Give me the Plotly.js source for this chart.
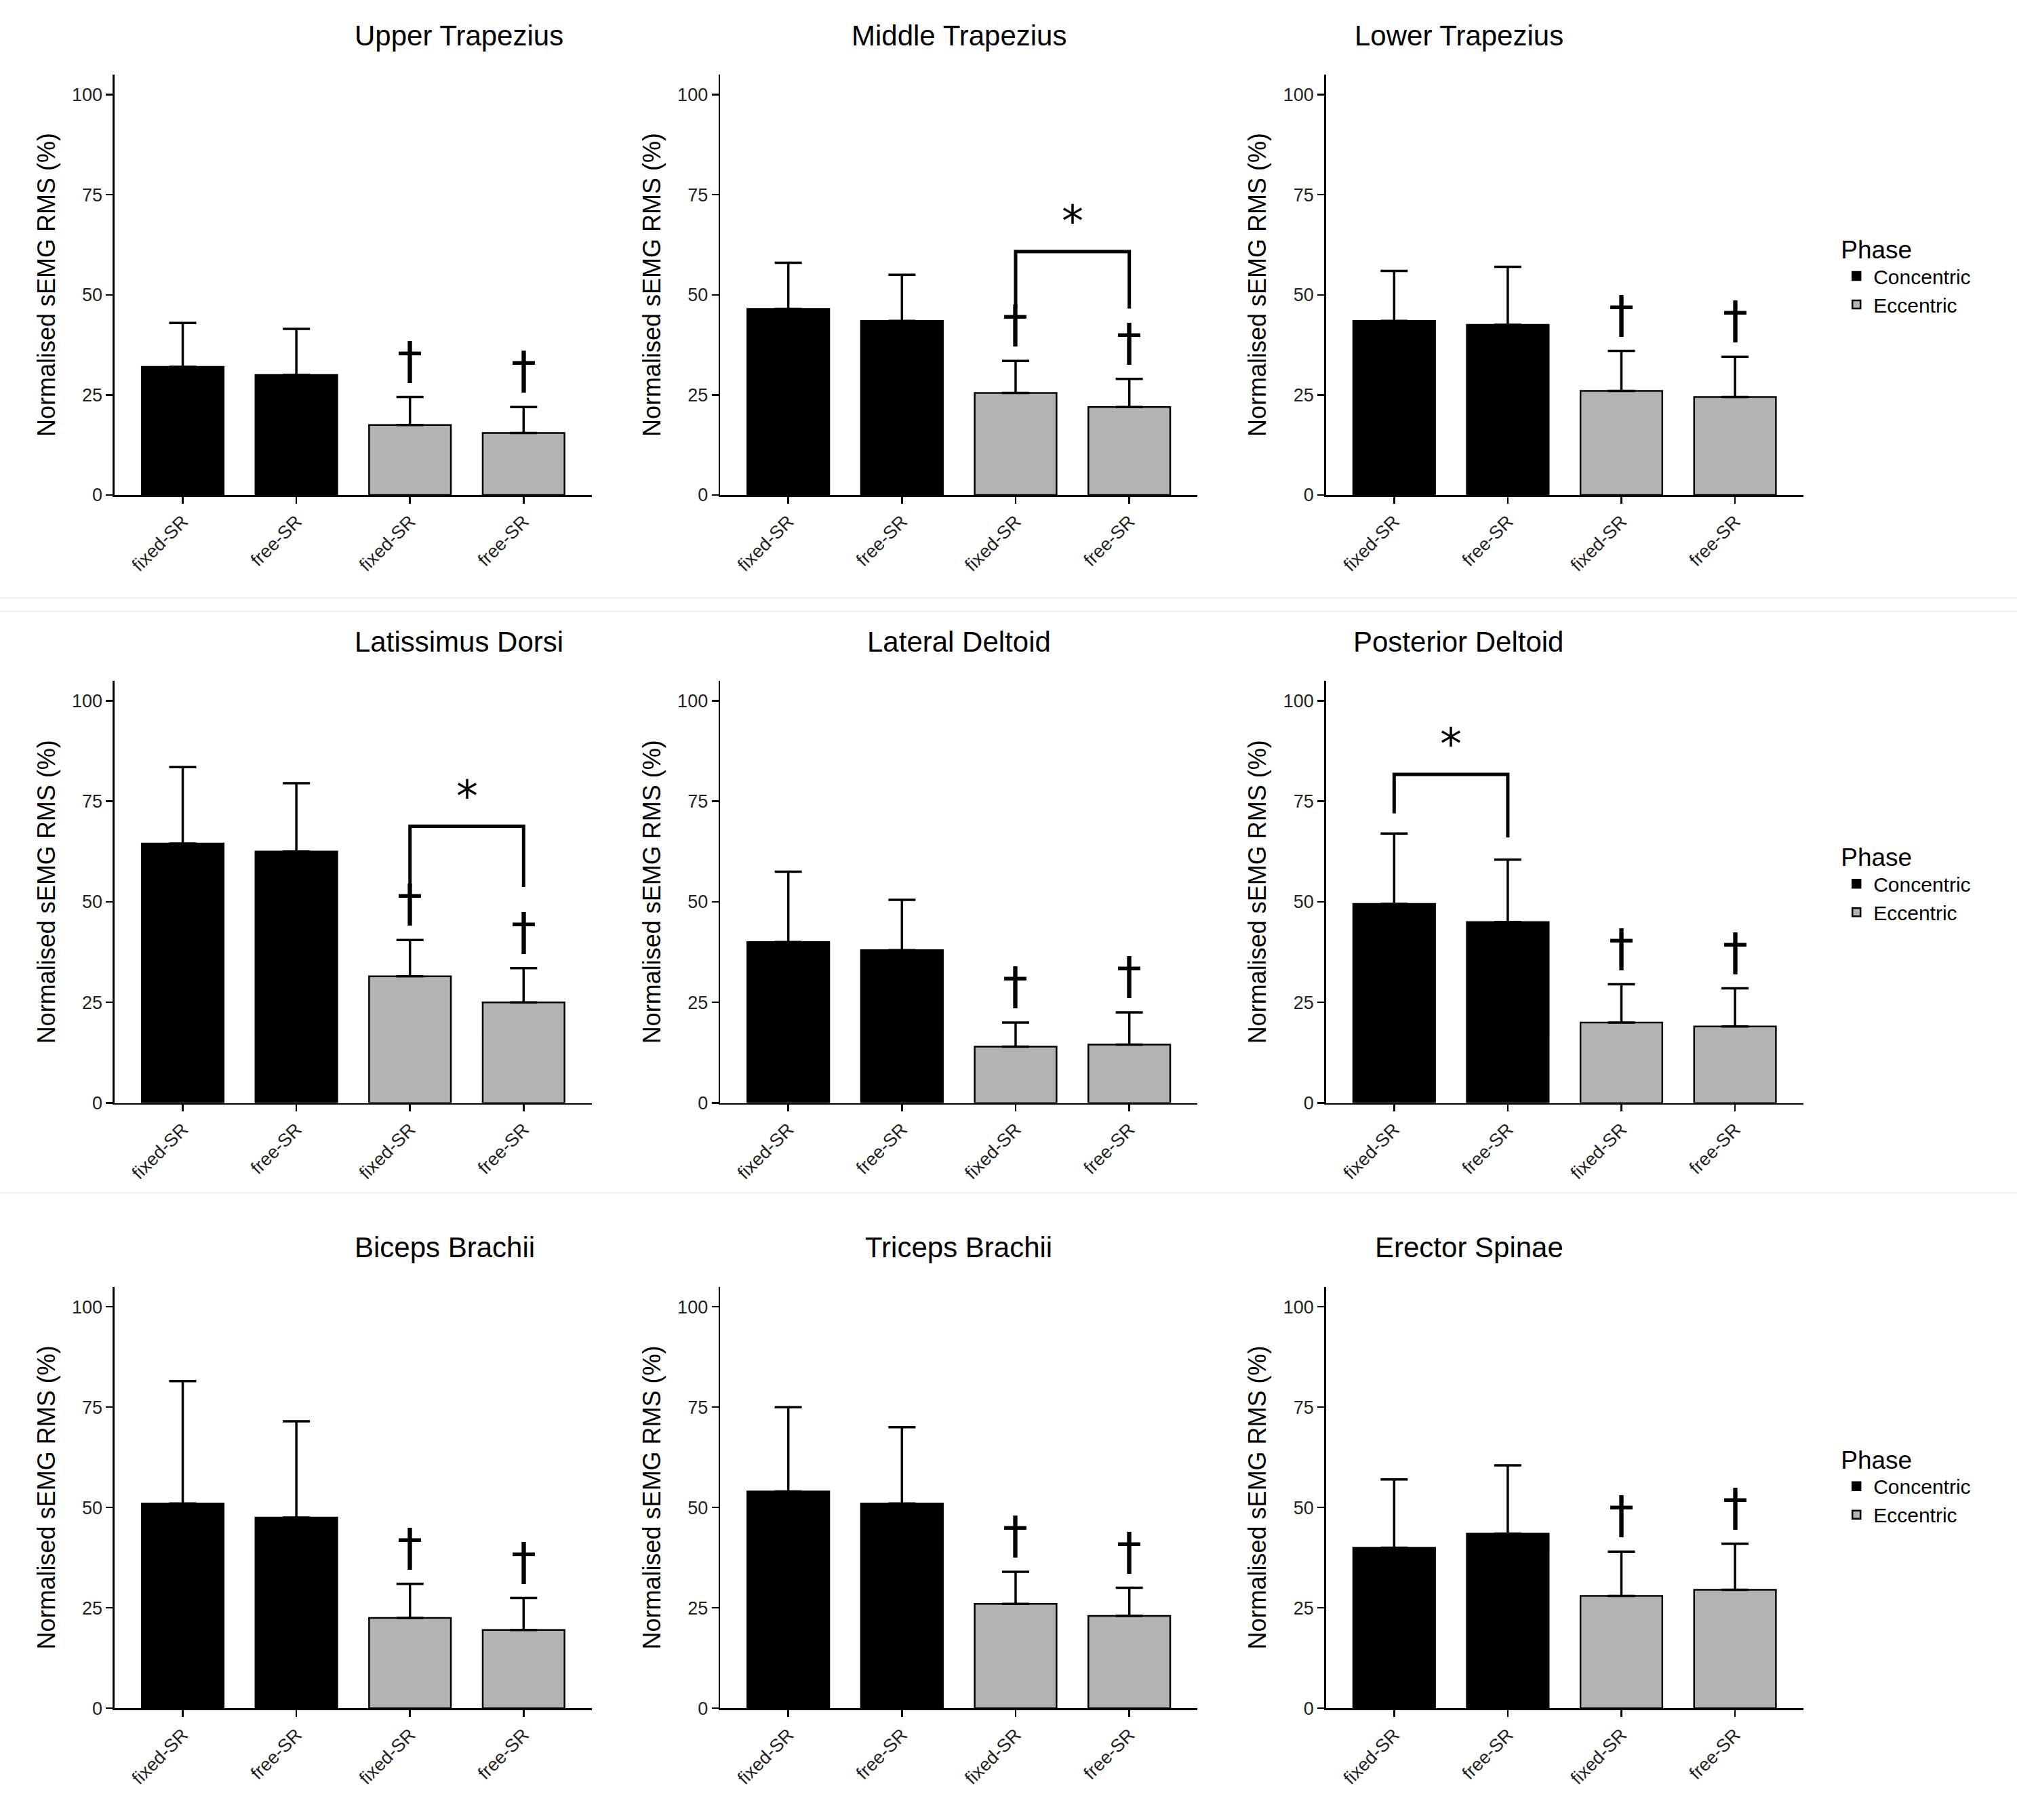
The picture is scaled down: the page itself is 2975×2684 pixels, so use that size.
<!DOCTYPE html>
<html>
<head>
<meta charset="utf-8">
<script src="https://cdn.plot.ly/plotly-3.0.1.min.js"></script>
<style>body{margin:0;background:#fff}#chart{width:2975px;height:2684px}</style>
</head>
<body>
<div id="chart"></div>
<script>
const muscles = ["Upper Trapezius", "Middle Trapezius", "Lower Trapezius",
  "Latissimus Dorsi", "Lateral Deltoid", "Posterior Deltoid",
  "Biceps Brachii", "Triceps Brachii", "Erector Spinae"];
const tickLabels = ["fixed-SR", "free-SR", "fixed-SR", "free-SR"];
// mean per bar: concentric fixed, concentric free, eccentric fixed, eccentric free
const means = [
  [32, 30, 17.5, 15.5],
  [46.5, 43.5, 25.5, 22],
  [43.5, 42.5, 26, 24.5],
  [64.5, 62.5, 31.5, 25],
  [40, 38, 14, 14.5],
  [49.5, 45, 20, 19],
  [51, 47.5, 22.5, 19.5],
  [54, 51, 26, 23],
  [40, 43.5, 28, 29.5]
];
// top of each error bar
const errTops = [
  [43, 41.5, 24.5, 22],
  [58, 55, 33.5, 29],
  [56, 57, 36, 34.5],
  [83.5, 79.5, 40.5, 33.5],
  [57.5, 50.5, 20, 22.5],
  [67, 60.5, 29.5, 28.5],
  [81.5, 71.5, 31, 27.5],
  [75, 70, 34, 30],
  [57, 60.5, 39, 41]
];
// dagger marks on eccentric bars (all panels)
const daggerBars = [2, 3];
// significance brackets: panel, left bar, right bar, bar height, left leg end, right leg end
const brackets = [
  {panel: 1, from: 2, to: 3, y: 60.8, left: 46.6, right: 46.6},
  {panel: 3, from: 2, to: 3, y: 68.8, left: 53.7, right: 53.7},
  {panel: 5, from: 0, to: 1, y: 81.7, left: 72, right: 66}
];

const colX = [[0.0568, 0.2934], [0.357, 0.5937], [0.6574, 0.894]];
const rowY = [[0.728, 0.959], [0.394, 0.626], [0.0614, 0.293]];
const phaseNames = ["Concentric", "Eccentric"];
const phaseColors = ["#000000", "#b3b3b3"];

const traces = [];
const layout = {
  width: 2975, height: 2684, margin: {l: 0, r: 0, t: 0, b: 0},
  paper_bgcolor: "#fff", plot_bgcolor: "#fff",
  font: {family: "Liberation Sans, Arial, sans-serif", color: "#000"},
  bargap: 0.28, barmode: "overlay",
  annotations: [], shapes: []
};

muscles.forEach((name, i) => {
  const r = Math.floor(i / 3), c = i % 3;
  const sfx = i === 0 ? "" : String(i + 1);
  const xa = "x" + sfx, ya = "y" + sfx;
  const legendId = r === 0 ? "legend" : "legend" + (r + 1);

  [0, 1].forEach((p) => {
    const idx = [p * 2, p * 2 + 1];
    traces.push({
      type: "bar", xaxis: xa, yaxis: ya,
      x: idx, y: idx.map((k) => means[i][k]),
      width: 0.72, name: phaseNames[p],
      marker: {color: phaseColors[p], line: {color: "#000", width: 2.5}},
      error_y: {type: "data", symmetric: false,
        array: idx.map((k) => errTops[i][k] - means[i][k]),
        arrayminus: idx.map(() => 0),
        color: "#000", thickness: 3.5, width: 20},
      showlegend: c === 0, legend: legendId, hoverinfo: "skip"
    });
  });

  layout["xaxis" + sfx] = {
    domain: colX[c], anchor: ya, range: [-0.6, 3.6],
    tickvals: [0, 1, 2, 3], ticktext: tickLabels, tickangle: -45,
    showline: true, linecolor: "#000", linewidth: 2.5,
    ticks: "outside", ticklen: 10, tickwidth: 2.5, tickcolor: "#000",
    showgrid: false, zeroline: false, fixedrange: true,
    tickfont: {size: 27, color: "#222"}
  };
  layout["yaxis" + sfx] = {
    domain: rowY[r], anchor: xa, range: [0, 105],
    tickvals: [0, 25, 50, 75, 100],
    showline: true, linecolor: "#000", linewidth: 2.5,
    ticks: "outside", ticklen: 10, tickwidth: 2.5, tickcolor: "#000",
    showgrid: false, zeroline: false, fixedrange: true,
    tickfont: {size: 27, color: "#222"},
    title: {text: "Normalised sEMG RMS (%)", font: {size: 36}, standoff: 14}
  };

  layout.annotations.push({
    xref: "paper", yref: "paper",
    x: (colX[c][0] + colX[c][1]) / 2, y: rowY[r][1] + 0.012,
    yanchor: "bottom", showarrow: false,
    text: name, font: {size: 42}
  });

  daggerBars.forEach((k) => {
    layout.annotations.push({
      xref: xa, yref: ya, x: k, y: errTops[i][k] + 1.5,
      yanchor: "bottom", showarrow: false,
      text: "†", font: {size: 74, family: "DejaVu Sans"}
    });
  });
});

brackets.forEach((b) => {
  const sfx = b.panel === 0 ? "" : String(b.panel + 1);
  const xa = "x" + sfx, ya = "y" + sfx;
  layout.shapes.push({
    type: "path", xref: xa, yref: ya,
    path: `M ${b.from} ${b.left} L ${b.from} ${b.y} L ${b.to} ${b.y} L ${b.to} ${b.right}`,
    line: {color: "#000", width: 5}
  });
  layout.annotations.push({
    xref: xa, yref: ya, x: (b.from + b.to) / 2, y: b.y + 1,
    yanchor: "bottom", showarrow: false,
    text: "*", font: {size: 64, family: "DejaVu Sans"}
  });
});

// faint separators between rows
[0.6715, 0.664, 0.3445].forEach((yy) => {
  layout.shapes.push({type: "line", xref: "paper", yref: "paper",
    x0: 0, x1: 1, y0: yy, y1: yy, line: {color: "#eeeeee", width: 2}});
});

const legendYs = [0.876, 0.542, 0.211];
["legend", "legend2", "legend3"].forEach((id, r) => {
  layout[id] = {
    x: 0.912, y: legendYs[r], xanchor: "left", yanchor: "top",
    title: {text: "Phase", font: {size: 37}},
    font: {size: 30}, traceorder: "normal",
    itemwidth: 40, tracegroupgap: 0, bgcolor: "rgba(0,0,0,0)"
  };
});

Plotly.newPlot("chart", traces, layout, {staticPlot: true});
</script>
</body>
</html>
